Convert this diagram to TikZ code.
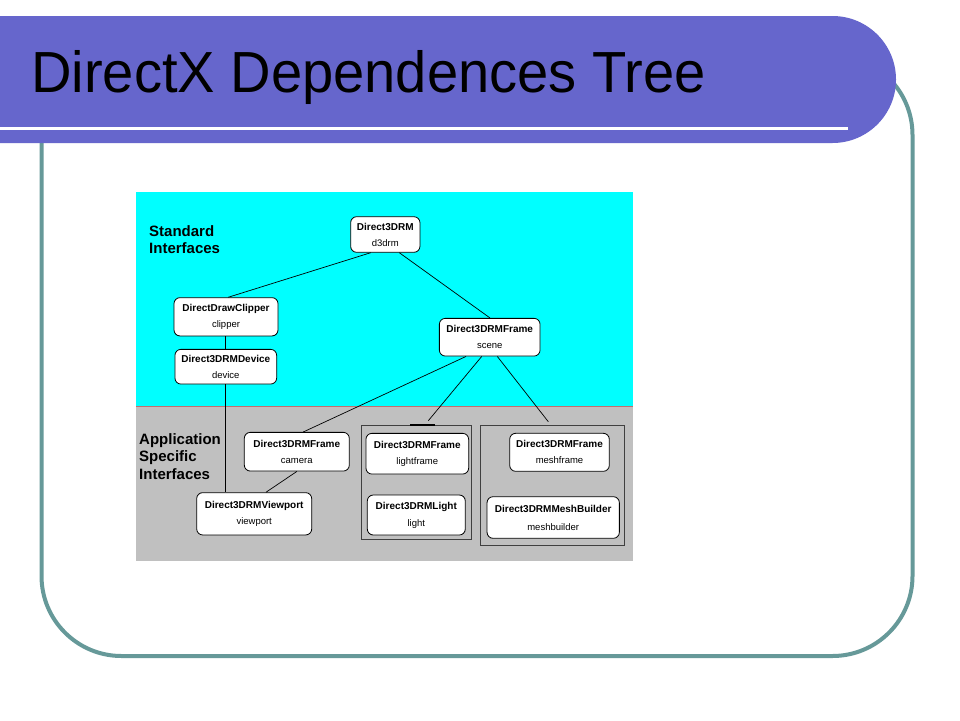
\documentclass[tikz,border=0pt]{standalone}
\usepackage{fontspec}
\setmainfont{Liberation Sans}
\newfontfamily\titlefont{Liberation Sans}[FakeStretch=0.967]
\definecolor{banner}{HTML}{6666CC}
\definecolor{frameteal}{HTML}{669999}
\definecolor{bgcyan}{HTML}{00FFFF}
\definecolor{bggray}{HTML}{C0C0C0}
\definecolor{sepred}{HTML}{C07070}
\definecolor{grpline}{HTML}{404040}
\begin{document}
\begin{tikzpicture}[x=1pt,y=-1pt,
  nbox/.style={draw=black, fill=white, rounded corners=6pt, line width=0.8pt,
    inner sep=0pt, align=center, font=\fontsize{10}{16}\selectfont},
  grp/.style={draw=grpline, line width=1pt, inner sep=0pt},
  conn/.style={draw=black, line width=0.7pt},
  side/.style={anchor=west, align=left, inner sep=0pt, font=\fontsize{15}{17.3}\selectfont\bfseries}]
\useasboundingbox (0,0) rectangle (960,720);
\fill[white] (0,0) rectangle (960,720);
% frame
\draw[frameteal, line width=4pt, rounded corners=80pt] (41.5,55) rectangle (912.5,656);
% banner
\fill[banner, rounded corners=63.5pt] (-100,16) rectangle (896,143);
\fill[white] (0,126.7) rectangle (848,130);
\node[anchor=base west, inner sep=0pt, font=\titlefont\fontsize{58}{60}\selectfont] (title) at (31,92.7) {DirectX Dependences Tree};
% diagram backgrounds
\fill[bgcyan] (136,192) rectangle (633,406);
\fill[bggray] (136,406) rectangle (633,560.5);
\draw[sepred, line width=0.8pt] (136,406) -- (633,406);
% side labels
\node[side] (std) at (149,239.5) {Standard\\Interfaces};
\node[side] (app) at (139,456.5) {Application\\Specific\\Interfaces};
% groups
\node[grp, minimum width=110.4pt, minimum height=114pt] (lightgrp) at (416.5,482.3) {};
\node[grp, minimum width=143.6pt, minimum height=120.4pt] (meshgrp) at (552.5,485.5) {};
% nodes
\node[nbox, minimum width=69.3pt, minimum height=35.6pt] (d3drm) at (385.3,234.5)
  {\textbf{Direct3DRM}\\{\fontsize{9.5}{16}\selectfont d3drm}};
\node[nbox, minimum width=104pt, minimum height=38.3pt] (clipper) at (226,316.8)
  {\textbf{DirectDrawClipper}\\{\fontsize{9.5}{16}\selectfont clipper}};
\node[nbox, minimum width=101.7pt, minimum height=34.7pt] (device) at (225.8,366.7)
  {\textbf{Direct3DRMDevice}\\{\fontsize{9.5}{16}\selectfont device}};
\node[nbox, minimum width=100.7pt, minimum height=37.7pt] (scene) at (489.7,337.2)
  {\textbf{Direct3DRMFrame}\\{\fontsize{9.5}{16}\selectfont scene}};
\node[nbox, minimum width=105pt, minimum height=38.7pt] (camera) at (296.8,451.7)
  {\textbf{Direct3DRMFrame}\\{\fontsize{9.5}{16}\selectfont camera}};
\node[nbox, minimum width=115pt, minimum height=42.3pt] (viewport) at (254.2,513.8)
  {\textbf{Direct3DRMViewport}\\{\fontsize{9.5}{16}\selectfont viewport}};
\node[nbox, minimum width=102.7pt, minimum height=40.7pt] (lightframe) at (417.3,453.7)
  {\textbf{Direct3DRMFrame}\\{\fontsize{9.5}{16}\selectfont lightframe}};
\node[nbox, minimum width=98pt, minimum height=40pt] (light) at (416.3,515)
  {\textbf{Direct3DRMLight}\\[1pt]{\fontsize{9.5}{16}\selectfont light}};
\node[nbox, minimum width=99.6pt, minimum height=38pt] (meshframe) at (559.5,452.3)
  {\textbf{Direct3DRMFrame}\\{\fontsize{9.5}{16}\selectfont meshframe}};
\node[nbox, minimum width=132.3pt, minimum height=41.6pt] (meshbuilder) at (553.2,517.5)
  {\textbf{Direct3DRMMeshBuilder}\\[2pt]{\fontsize{9.5}{16}\selectfont meshbuilder}};
% connector end points at group tops
\coordinate (lgtip) at (428.3,420.7);
\coordinate (mgtip) at (548.3,421.7);
% connectors
\draw[conn] ([xshift=-14.6pt]d3drm.south) -- ([xshift=2.3pt]clipper.north);
\draw[conn] ([xshift=14pt]d3drm.south) -- ([xshift=0.3pt]scene.north);
\draw[conn] ([xshift=-1pt]clipper.south) -- ([xshift=-0.8pt]device.north);
\draw[conn] ([xshift=-0.8pt]device.south) -- ([xshift=-29.2pt]viewport.north);
\draw[conn] ([xshift=-23.7pt]scene.south) -- ([xshift=6.5pt]camera.north);
\draw[conn] ([xshift=-8pt]scene.south) -- (lgtip);
\draw[conn] ([xshift=7.6pt]scene.south) -- (mgtip);
\draw[conn] (camera.south) -- ([xshift=11.8pt]viewport.north);
\draw[black, line width=1.6pt] ([xshift=-6.5pt]lightgrp.north) -- ([xshift=18.5pt]lightgrp.north);
\end{tikzpicture}
\end{document}
